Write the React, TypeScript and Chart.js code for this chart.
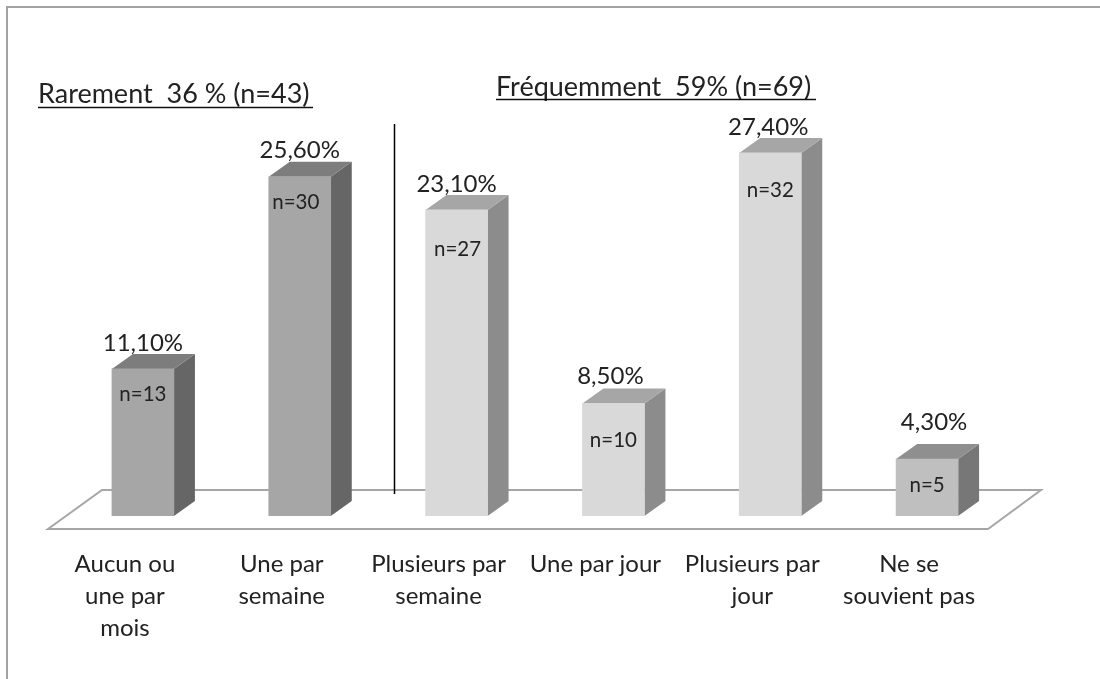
import React, { useEffect, useRef } from "react";
import { Chart, registerables } from "chart.js";

Chart.register(...registerables);

const categories = [
  ["Aucun ou", "une par", "mois"],
  ["Une par", "semaine"],
  ["Plusieurs par", "semaine"],
  ["Une par jour"],
  ["Plusieurs par", "jour"],
  ["Ne se", "souvient pas"],
];
const percentages = [11.1, 25.6, 23.1, 8.5, 27.4, 4.3];
const percentLabels = ["11,10%", "25,60%", "23,10%", "8,50%", "27,40%", "4,30%"];
const countLabels = ["n=13", "n=30", "n=27", "n=10", "n=32", "n=5"];
const groupTitles = ["Rarement  36 % (n=43)", "Fréquemment  59% (n=69)"];

const frontColors = ["#a6a6a6", "#a6a6a6", "#d9d9d9", "#d9d9d9", "#d9d9d9", "#bfbfbf"];
const sideColors = ["#666666", "#666666", "#8c8c8c", "#8c8c8c", "#8c8c8c", "#777777"];
const topColors = ["#7d7d7d", "#7d7d7d", "#a6a6a6", "#a6a6a6", "#a6a6a6", "#8f8f8f"];

// pixel nudges of the labels relative to the bar top / centre
const percentNudge = [[0, -26], [0, -27], [0, -26], [-3, -27], [-2, -26], [7, -37]];
const countNudge = [[0, 25], [-4, 26], [1, 39], [0, 37], [0, 37], [0, 26]];

const TEXT = "#222222";
const FONT = "Lato";
const DX = 21;
const DY = -15;

const decor = {
  id: "decor",
  beforeDatasetsDraw(chart: any) {
    const { ctx } = chart;
    ctx.save();
    // outer frame
    ctx.strokeStyle = "#a3a3a3";
    ctx.lineWidth = 2;
    ctx.beginPath();
    ctx.moveTo(7, 679);
    ctx.lineTo(7, 7);
    ctx.lineTo(1100, 7);
    ctx.stroke();
    // floor
    ctx.strokeStyle = "#a6a6a6";
    ctx.lineWidth = 2;
    ctx.beginPath();
    ctx.moveTo(48, 529);
    ctx.lineTo(102, 490);
    ctx.lineTo(1041, 490);
    ctx.lineTo(988, 529);
    ctx.closePath();
    ctx.stroke();
    // divider
    ctx.strokeStyle = "#000000";
    ctx.lineWidth = 1.5;
    ctx.beginPath();
    ctx.moveTo(394.5, 124);
    ctx.lineTo(394.5, 494);
    ctx.stroke();
    // bar sides and tops
    const meta = chart.getDatasetMeta(0);
    meta.data.forEach((bar: any, i: number) => {
      const l = bar.x - bar.width / 2;
      const r = bar.x + bar.width / 2;
      const t = bar.y;
      const b = bar.base;
      ctx.fillStyle = sideColors[i];
      ctx.beginPath();
      ctx.moveTo(r, t);
      ctx.lineTo(r + DX, t + DY);
      ctx.lineTo(r + DX, b + DY);
      ctx.lineTo(r, b);
      ctx.closePath();
      ctx.fill();
      ctx.fillStyle = topColors[i];
      ctx.beginPath();
      ctx.moveTo(l, t);
      ctx.lineTo(l + DX, t + DY);
      ctx.lineTo(r + DX, t + DY);
      ctx.lineTo(r, t);
      ctx.closePath();
      ctx.fill();
    });
    ctx.restore();
  },
  afterDatasetsDraw(chart: any) {
    const { ctx } = chart;
    const meta = chart.getDatasetMeta(0);
    ctx.save();
    ctx.fillStyle = TEXT;
    ctx.textAlign = "center";
    ctx.textBaseline = "middle";
    meta.data.forEach((bar: any, i: number) => {
      ctx.font = `24px ${FONT}`;
      ctx.fillText(percentLabels[i], bar.x + percentNudge[i][0], bar.y + percentNudge[i][1]);
      ctx.font = `20.5px ${FONT}`;
      ctx.fillText(countLabels[i], bar.x + countNudge[i][0], bar.y + countNudge[i][1]);
    });
    // group titles with underline
    ctx.textAlign = "left";
    ctx.textBaseline = "alphabetic";
    ctx.font = `27px ${FONT}`;
    ctx.strokeStyle = "#111111";
    ctx.lineWidth = 1.5;
    const spots = [[38, 103, 313, 107.5], [496, 96, 816, 99.5]];
    groupTitles.forEach((title, i) => {
      const [x, y, xEnd, yLine] = spots[i];
      ctx.fillText(title, x, y, xEnd - x);
      ctx.beginPath();
      ctx.moveTo(x, yLine);
      ctx.lineTo(xEnd, yLine);
      ctx.stroke();
    });
    ctx.restore();
  },
};

export default function App() {
  const ref = useRef<HTMLCanvasElement>(null);
  useEffect(() => {
    const chart = new Chart(ref.current!, {
      type: "bar",
      data: {
        labels: categories,
        datasets: [
          {
            data: percentages,
            backgroundColor: frontColors,
            borderWidth: 0,
            barThickness: 62,
          },
        ],
      },
      options: {
        responsive: false,
        animation: false,
        layout: { padding: { left: 64.5, right: 94.5, top: 118.5, bottom: 0 } },
        plugins: { legend: { display: false }, tooltip: { enabled: false } },
        scales: {
          x: {
            afterFit: (s: any) => {
              s.height = 163;
            },
            grid: { display: false },
            border: { display: false },
            ticks: {
              autoSkip: false,
              maxRotation: 0,
              minRotation: 0,
              padding: 24,
              labelOffset: -18,
              color: TEXT,
              font: { family: FONT, size: 24, lineHeight: 1.33 },
            },
          },
          y: { display: false, min: 0, max: 30 },
        },
      },
      plugins: [decor],
    });
    return () => chart.destroy();
  }, []);
  return (
    <canvas
      ref={ref}
      width={1100}
      height={679}
      style={{ position: "absolute", left: 0, top: 0, display: "block", background: "#ffffff" }}
    />
  );
}
